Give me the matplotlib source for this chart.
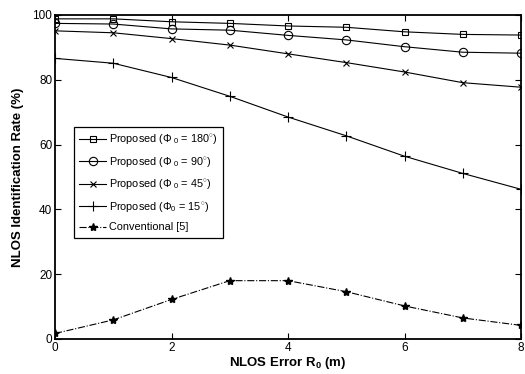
import matplotlib
matplotlib.use("Agg")
import matplotlib.pyplot as plt

plt.rcParams['font.family'] = ['Liberation Sans', 'DejaVu Sans']
plt.rcParams['mathtext.fontset'] = 'custom'
plt.rcParams['mathtext.rm'] = 'Liberation Sans'
plt.rcParams['mathtext.it'] = 'Liberation Sans'
plt.rcParams['mathtext.bf'] = 'Liberation Sans:bold'

x = [0, 1, 2, 3, 4, 5, 6, 7, 8]
phi180 = [98.8, 98.8, 97.9, 97.4, 96.6, 96.2, 94.8, 94.0, 93.8]
phi90 = [97.4, 97.2, 95.7, 95.3, 93.7, 92.3, 90.2, 88.5, 88.2]
phi45 = [95.1, 94.5, 92.7, 90.7, 88.0, 85.3, 82.4, 79.1, 77.7]
phi15 = [86.6, 85.1, 80.7, 74.9, 68.5, 62.7, 56.4, 51.1, 46.2]
conventional = [1.7, 5.9, 12.2, 18.0, 18.0, 14.6, 10.2, 6.5, 4.2]

labels = [r'Proposed ($\Phi_{\ 0}$ = 180$^{\circ}$)',
          r'Proposed ($\Phi_{\ 0}$ = 90$^{\circ}$)',
          r'Proposed ($\Phi_{\ 0}$ = 45$^{\circ}$)',
          r'Proposed ($\Phi_{0}$ = 15$^{\circ}$)',
          'Conventional [5]']
xticks = [0, 2, 4, 6, 8]
yticks = [0, 20, 40, 60, 80, 100]

fig = plt.figure(figsize=(5.25, 3.74), dpi=100)
ax = fig.add_axes([0.1048, 0.0936, 0.8876, 0.8664])

lw = 0.8
ax.plot(x, phi180, color='black', lw=lw, marker='s', ms=4.5, mfc='none', mec='black', mew=0.8, label=labels[0])
ax.plot(x, phi90, color='black', lw=lw, marker='o', ms=6, mfc='none', mec='black', mew=0.8, label=labels[1])
ax.plot(x, phi45, color='black', lw=lw, marker='x', ms=4, mec='black', mew=0.8, label=labels[2])
ax.plot(x, phi15, color='black', lw=lw, marker='+', ms=7, mec='black', mew=0.8, label=labels[3])
ax.plot(x, conventional, color='black', lw=lw, ls='-.', marker='*', ms=6, mfc='black', mec='black', label=labels[4])

ax.set_xlim(0, 8)
ax.set_ylim(0, 100)
ax.set_xticks(xticks)
ax.set_yticks(yticks)
ax.tick_params(direction='in', top=True, right=True, length=4, width=0.8, labelsize=8.5, pad=2)
for s in ax.spines.values():
    s.set_linewidth(1.3)

ax.set_xlabel(r'NLOS Error R$_\mathbf{0}$ (m)', fontsize=9.5, fontweight='bold', labelpad=1)
ax.set_ylabel('NLOS Identification Rate (%)', fontsize=9.5, fontweight='bold', labelpad=6)

leg = ax.legend(loc='upper left', bbox_to_anchor=(0.04, 0.654), fontsize=7.8,
                frameon=True, fancybox=False, edgecolor='black', framealpha=1,
                handlelength=2.5, handletextpad=0.3, labelspacing=0.78,
                borderpad=0.5, borderaxespad=0)
leg.get_frame().set_linewidth(0.9)

fig.savefig('out.png', dpi=100)
